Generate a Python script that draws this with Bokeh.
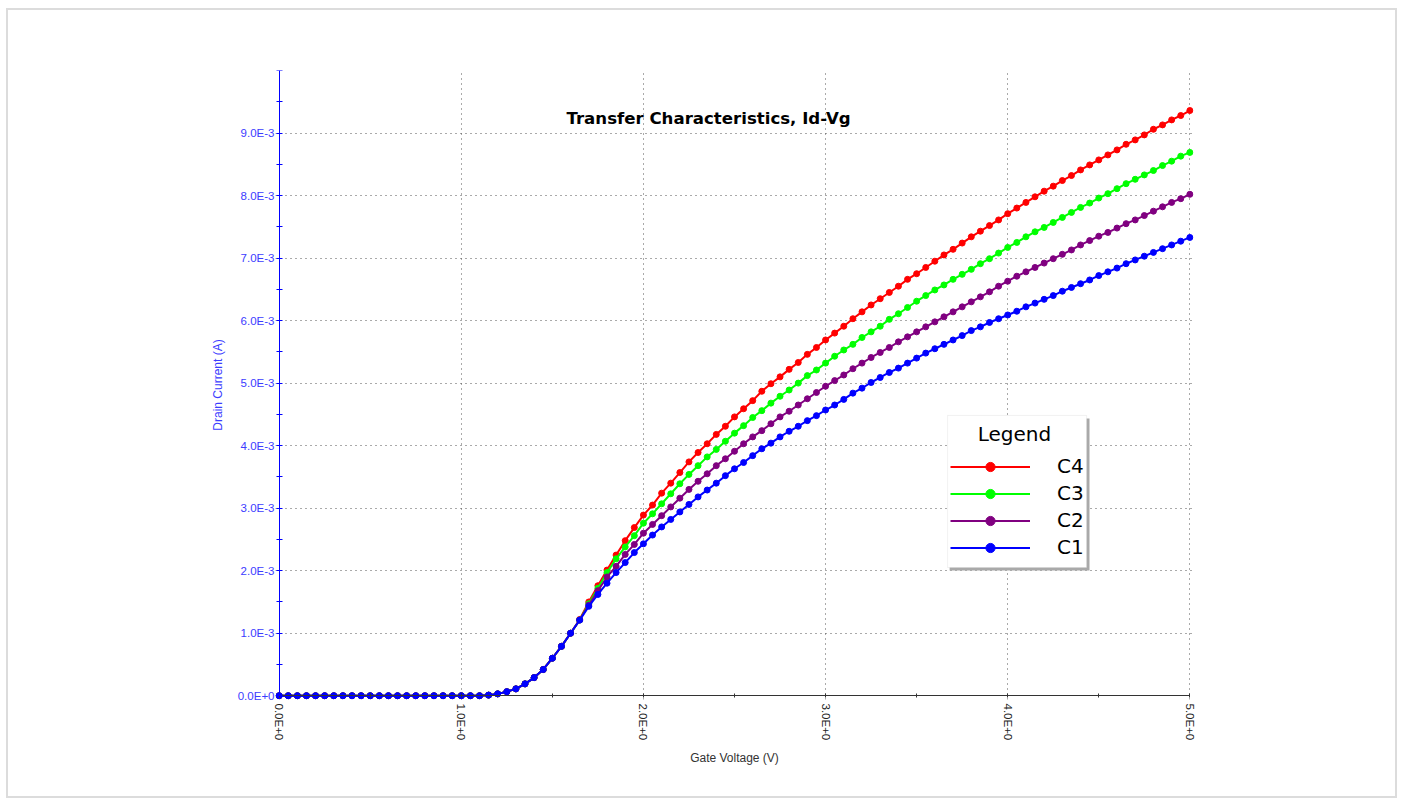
from bokeh.plotting import figure
from bokeh.models import (FixedTicker, Legend, LegendItem, Label, BoxAnnotation,
                          ColumnDataSource, LinearAxis)
from bokeh.embed import file_html
from bokeh.resources import INLINE

# ---------------- data ----------------
gate_voltage = [
    0.00, 0.05, 0.10, 0.15, 0.20, 0.25, 0.30, 0.35, 0.40, 0.45,
    0.50, 0.55, 0.60, 0.65, 0.70, 0.75, 0.80, 0.85, 0.90, 0.95,
    1.00, 1.05, 1.10, 1.15, 1.20, 1.25, 1.30, 1.35, 1.40, 1.45,
    1.50, 1.55, 1.60, 1.65, 1.70, 1.75, 1.80, 1.85, 1.90, 1.95,
    2.00, 2.05, 2.10, 2.15, 2.20, 2.25, 2.30, 2.35, 2.40, 2.45,
    2.50, 2.55, 2.60, 2.65, 2.70, 2.75, 2.80, 2.85, 2.90, 2.95,
    3.00, 3.05, 3.10, 3.15, 3.20, 3.25, 3.30, 3.35, 3.40, 3.45,
    3.50, 3.55, 3.60, 3.65, 3.70, 3.75, 3.80, 3.85, 3.90, 3.95,
    4.00, 4.05, 4.10, 4.15, 4.20, 4.25, 4.30, 4.35, 4.40, 4.45,
    4.50, 4.55, 4.60, 4.65, 4.70, 4.75, 4.80, 4.85, 4.90, 4.95,
    5.00,
]

c1 = [
    0, 0, 0, 0, 0, 0, 0, 0, 0, 0,
    0, 0, 0, 0, 0, 0, 0, 0, 0, 0,
    0, 0, 0, 0.01e-3, 0.03e-3, 0.065e-3, 0.11e-3, 0.19e-3, 0.29e-3, 0.42e-3,
    0.60e-3, 0.79e-3, 1.00e-3, 1.21e-3, 1.43e-3, 1.62e-3, 1.80e-3, 1.97e-3, 2.13e-3, 2.29e-3,
    2.43e-3, 2.57e-3, 2.70e-3, 2.82e-3, 2.94e-3, 3.06e-3, 3.18e-3, 3.29e-3, 3.40e-3, 3.52e-3,
    3.63e-3, 3.73e-3, 3.84e-3, 3.95e-3, 4.04e-3, 4.14e-3, 4.23e-3, 4.31e-3, 4.40e-3, 4.48e-3,
    4.57e-3, 4.65e-3, 4.74e-3, 4.84e-3, 4.92e-3, 5.01e-3, 5.09e-3, 5.17e-3, 5.24e-3, 5.32e-3,
    5.40e-3, 5.48e-3, 5.55e-3, 5.62e-3, 5.69e-3, 5.76e-3, 5.84e-3, 5.90e-3, 5.97e-3, 6.03e-3,
    6.09e-3, 6.15e-3, 6.22e-3, 6.28e-3, 6.34e-3, 6.40e-3, 6.47e-3, 6.53e-3, 6.59e-3, 6.65e-3,
    6.72e-3, 6.78e-3, 6.84e-3, 6.91e-3, 6.97e-3, 7.03e-3, 7.09e-3, 7.15e-3, 7.21e-3, 7.27e-3,
    7.33e-3,
]

c2 = [
    0, 0, 0, 0, 0, 0, 0, 0, 0, 0,
    0, 0, 0, 0, 0, 0, 0, 0, 0, 0,
    0, 0, 0, 0.01e-3, 0.03e-3, 0.065e-3, 0.11e-3, 0.19e-3, 0.29e-3, 0.42e-3,
    0.60e-3, 0.79e-3, 1.00e-3, 1.21e-3, 1.45e-3, 1.68e-3, 1.90e-3, 2.07e-3, 2.26e-3, 2.42e-3,
    2.60e-3, 2.74e-3, 2.88e-3, 3.02e-3, 3.16e-3, 3.30e-3, 3.43e-3, 3.55e-3, 3.68e-3, 3.79e-3,
    3.91e-3, 4.03e-3, 4.14e-3, 4.24e-3, 4.35e-3, 4.46e-3, 4.55e-3, 4.65e-3, 4.75e-3, 4.85e-3,
    4.95e-3, 5.04e-3, 5.13e-3, 5.23e-3, 5.32e-3, 5.41e-3, 5.49e-3, 5.57e-3, 5.66e-3, 5.74e-3,
    5.82e-3, 5.90e-3, 5.98e-3, 6.06e-3, 6.14e-3, 6.22e-3, 6.30e-3, 6.38e-3, 6.46e-3, 6.55e-3,
    6.63e-3, 6.71e-3, 6.78e-3, 6.85e-3, 6.92e-3, 6.99e-3, 7.06e-3, 7.13e-3, 7.21e-3, 7.28e-3,
    7.35e-3, 7.41e-3, 7.48e-3, 7.55e-3, 7.61e-3, 7.68e-3, 7.75e-3, 7.82e-3, 7.89e-3, 7.95e-3,
    8.02e-3,
]

c3 = [
    0, 0, 0, 0, 0, 0, 0, 0, 0, 0,
    0, 0, 0, 0, 0, 0, 0, 0, 0, 0,
    0, 0, 0, 0.01e-3, 0.03e-3, 0.065e-3, 0.11e-3, 0.19e-3, 0.29e-3, 0.42e-3,
    0.60e-3, 0.79e-3, 1.00e-3, 1.21e-3, 1.47e-3, 1.72e-3, 1.97e-3, 2.19e-3, 2.38e-3, 2.56e-3,
    2.76e-3, 2.91e-3, 3.07e-3, 3.23e-3, 3.39e-3, 3.54e-3, 3.68e-3, 3.82e-3, 3.94e-3, 4.07e-3,
    4.20e-3, 4.32e-3, 4.45e-3, 4.56e-3, 4.68e-3, 4.79e-3, 4.89e-3, 5.00e-3, 5.12e-3, 5.21e-3,
    5.32e-3, 5.43e-3, 5.53e-3, 5.62e-3, 5.73e-3, 5.82e-3, 5.91e-3, 6.02e-3, 6.11e-3, 6.21e-3,
    6.31e-3, 6.40e-3, 6.49e-3, 6.57e-3, 6.66e-3, 6.74e-3, 6.82e-3, 6.91e-3, 6.99e-3, 7.08e-3,
    7.17e-3, 7.25e-3, 7.34e-3, 7.42e-3, 7.49e-3, 7.57e-3, 7.65e-3, 7.73e-3, 7.81e-3, 7.88e-3,
    7.96e-3, 8.03e-3, 8.11e-3, 8.19e-3, 8.26e-3, 8.33e-3, 8.40e-3, 8.48e-3, 8.55e-3, 8.63e-3,
    8.69e-3,
]

c4 = [
    0, 0, 0, 0, 0, 0, 0, 0, 0, 0,
    0, 0, 0, 0, 0, 0, 0, 0, 0, 0,
    0, 0, 0, 0.01e-3, 0.03e-3, 0.065e-3, 0.11e-3, 0.19e-3, 0.29e-3, 0.42e-3,
    0.60e-3, 0.79e-3, 1.00e-3, 1.22e-3, 1.50e-3, 1.76e-3, 2.01e-3, 2.25e-3, 2.48e-3, 2.69e-3,
    2.89e-3, 3.05e-3, 3.24e-3, 3.40e-3, 3.57e-3, 3.74e-3, 3.89e-3, 4.03e-3, 4.18e-3, 4.31e-3,
    4.46e-3, 4.59e-3, 4.72e-3, 4.87e-3, 4.99e-3, 5.10e-3, 5.22e-3, 5.33e-3, 5.46e-3, 5.57e-3,
    5.69e-3, 5.80e-3, 5.91e-3, 6.03e-3, 6.14e-3, 6.25e-3, 6.35e-3, 6.45e-3, 6.55e-3, 6.66e-3,
    6.75e-3, 6.85e-3, 6.95e-3, 7.05e-3, 7.14e-3, 7.24e-3, 7.34e-3, 7.43e-3, 7.52e-3, 7.61e-3,
    7.71e-3, 7.80e-3, 7.89e-3, 7.98e-3, 8.07e-3, 8.15e-3, 8.24e-3, 8.32e-3, 8.41e-3, 8.49e-3,
    8.57e-3, 8.65e-3, 8.73e-3, 8.82e-3, 8.89e-3, 8.97e-3, 9.06e-3, 9.13e-3, 9.21e-3, 9.28e-3,
    9.36e-3,
]

series_names = ["C4", "C3", "C2", "C1"]
series_colors = ["#ff0000", "#00ff00", "#800080", "#0000ff"]

x_ticks = [0, 1, 2, 3, 4, 5]
x_minor_ticks = [0.5, 1.5, 2.5, 3.5, 4.5]
x_tick_labels = ["0.0E+0", "1.0E+0", "2.0E+0", "3.0E+0", "4.0E+0", "5.0E+0"]

y_ticks = [0.0, 0.001, 0.002, 0.003, 0.004, 0.005, 0.006, 0.007, 0.008, 0.009]
y_minor_ticks = [0.0005, 0.0015, 0.0025, 0.0035, 0.0045, 0.0055, 0.0065,
                 0.0075, 0.0085, 0.0095, 0.01]
y_tick_labels = ["0.0E+0", "1.0E-3", "2.0E-3", "3.0E-3", "4.0E-3",
                 "5.0E-3", "6.0E-3", "7.0E-3", "8.0E-3", "9.0E-3"]

# ---------------- figure ----------------
p = figure(width=1391, height=790,
           x_range=(-0.02, 5.02), y_range=(-0.00006, 0.01),
           output_backend="svg", toolbar_location=None,
           min_border_left=267, min_border_right=206,
           min_border_top=60, min_border_bottom=101,
           background_fill_color="white", border_fill_color="white",
           outline_line_color=None)
p.title.text = ""
p.styles = {"border": "2px solid #dcdcdc", "margin-left": "6px", "margin-top": "8px"}

# x axis: rule + ticks at y = 0
xa = p.xaxis[0]
xa.ticker = FixedTicker(ticks=x_ticks, minor_ticks=x_minor_ticks)
xa.fixed_location = 0
xa.bounds = (0, 5)
xa.axis_line_color = "#333333"
xa.major_tick_line_color = "#333333"
xa.minor_tick_line_color = "#333333"
xa.major_tick_in = 2
xa.major_tick_out = 2
xa.minor_tick_in = 2
xa.minor_tick_out = 2
xa.major_label_text_color = None

# x axis: labels
xl = LinearAxis(ticker=FixedTicker(ticks=x_ticks, minor_ticks=[]),
                major_label_overrides=dict(zip(x_ticks, x_tick_labels)),
                major_label_orientation="vertical",
                axis_line_color=None, major_tick_line_color=None,
                minor_tick_line_color=None,
                major_tick_in=0, major_tick_out=0, minor_tick_in=0, minor_tick_out=0,
                major_label_standoff=4,
                major_label_text_font="Liberation Sans",
                major_label_text_font_size="11.5px",
                major_label_text_color="#222222",
                axis_label="Gate Voltage (V)",
                axis_label_text_font="Liberation Sans",
                axis_label_text_font_style="normal",
                axis_label_text_font_size="12px",
                axis_label_text_color="#333333",
                axis_label_standoff=8)
p.add_layout(xl, "below")

# y axis: rule + ticks at x = 0
ya = p.yaxis[0]
ya.ticker = FixedTicker(ticks=y_ticks, minor_ticks=y_minor_ticks)
ya.fixed_location = 0
ya.bounds = (0, 0.01)
ya.axis_line_color = "#0000ff"
ya.major_tick_line_color = "#0000ff"
ya.minor_tick_line_color = "#0000ff"
ya.major_tick_in = 3
ya.major_tick_out = 3
ya.minor_tick_in = 3
ya.minor_tick_out = 3
ya.major_label_text_color = None

# y axis: labels
yl = LinearAxis(ticker=FixedTicker(ticks=y_ticks, minor_ticks=[]),
                major_label_overrides=dict(zip(y_ticks, y_tick_labels)),
                axis_line_color=None, major_tick_line_color=None,
                minor_tick_line_color=None,
                major_tick_in=0, major_tick_out=0, minor_tick_in=0, minor_tick_out=0,
                major_label_standoff=1,
                major_label_text_font="Liberation Sans",
                major_label_text_font_size="11.5px",
                major_label_text_color="#3c3cff",
                axis_label="Drain Current (A)",
                axis_label_text_font="Liberation Sans",
                axis_label_text_font_style="normal",
                axis_label_text_font_size="12px",
                axis_label_text_color="#3c3cff",
                axis_label_standoff=10)
p.add_layout(yl, "left")

# grids
p.xgrid.ticker = FixedTicker(ticks=x_ticks[1:])
p.ygrid.ticker = FixedTicker(ticks=y_ticks[1:])
for g in (p.xgrid[0], p.ygrid[0]):
    g.grid_line_color = "#555555"
    g.grid_line_dash = "1 4"
    g.grid_line_width = 1

# ---------------- series ----------------
src = ColumnDataSource(dict(v=gate_voltage, C1=c1, C2=c2, C3=c3, C4=c4))
items = []
for name, color in zip(series_names, series_colors):
    ln = p.line("v", name, source=src, line_color=color, line_width=2)
    sc = p.scatter("v", name, source=src, marker="circle", size=6,
                   fill_color=color, line_color=color)
    items.append(LegendItem(label=name, renderers=[ln, sc]))

# title
p.add_layout(Label(x=2.3575, y=0.009228, text="Transfer Characteristics, Id-Vg",
                   text_align="center", text_baseline="alphabetic",
                   text_font="DejaVu Sans", text_font_style="bold",
                   text_font_size="16.6px", text_color="black"))

# legend frame (shadow + box) and legend
p.add_layout(BoxAnnotation(left=3.681, right=4.449, top=0.004434, bottom=0.002003,
                           fill_color="#a9a9a9", fill_alpha=1.0, line_color=None))
p.add_layout(BoxAnnotation(left=3.670, right=4.433, top=0.004483, bottom=0.002051,
                           fill_color="white", fill_alpha=1.0,
                           line_color="#cfcfcf", line_width=1))
p.add_layout(Label(x=4.037, y=0.004190, text="Legend", text_align="center",
                   text_baseline="alphabetic", text_font="DejaVu Sans",
                   text_font_size="20px", text_color="black"))

legend = Legend(items=items, location=(675, 140), orientation="vertical",
                padding=0, margin=0, spacing=3,
                glyph_width=80, glyph_height=23, label_height=23, label_standoff=27,
                label_text_font="DejaVu Sans", label_text_font_size="20px",
                label_text_color="black",
                background_fill_alpha=0.0, border_line_color=None)
p.add_layout(legend)

open("out.html", "w").write(file_html(p, INLINE))
